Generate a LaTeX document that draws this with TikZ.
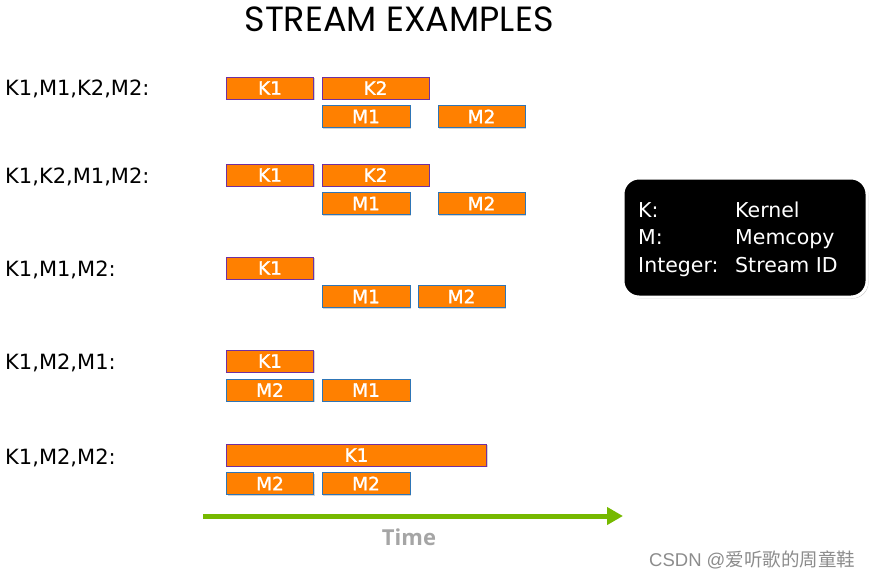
\documentclass[tikz,border=0pt]{standalone}
\usepackage{fontspec}
\setmainfont{DejaVu Sans}
\newfontfamily\cjkfont{Noto Sans CJK SC}
\newfontfamily\titlefont{Poppins}
\newfontfamily\wmfont{Liberation Sans}
\newfontfamily\timefont{Open Sans}
\newfontfamily\boxfont[FakeBold=1.2]{DejaVu Sans}
\usetikzlibrary{shadows,arrows.meta}
\definecolor{boxorange}{RGB}{255,128,0}
\definecolor{kborder}{RGB}{112,48,160}
\definecolor{mborder}{RGB}{46,117,182}
\definecolor{nvgreen}{RGB}{118,185,0}
\definecolor{timegray}{RGB}{165,165,165}
\tikzset{
  opbox/.style={fill=boxorange, line width=0.9pt, minimum height=22pt, inner sep=0pt,
    text=white, font=\boxfont\fontsize{18.5}{18.5}\selectfont,
    drop shadow={shadow xshift=1.2pt, shadow yshift=-1.2pt, opacity=0.35}},
  kbox/.style={opbox, draw=kborder},
  mbox/.style={opbox, draw=mborder},
  rowlabel/.style={anchor=base west, inner sep=0pt, font=\fontsize{21}{21}\selectfont},
  legtext/.style={anchor=base west, inner sep=0pt, text=white, font=\fontsize{20.5}{29}\selectfont},
}
\begin{document}
\begin{tikzpicture}[x=1pt,y=-1pt]
\useasboundingbox (0,0) rectangle (875,579);
\node[font=\titlefont\fontsize{35}{35}\selectfont, inner sep=0pt] (title) at (399,19) {STREAM EXAMPLES};

% row 1
\node[rowlabel] (l1) at (5,95) {K1,M1,K2,M2:};
\node[kbox, minimum width=87pt] (r1k1) at (270,88) {K1};
\node[kbox, minimum width=107pt] (r1k2) at (375.5,88) {K2};
\node[mbox, minimum width=88pt] (r1m1) at (366,116.5) {M1};
\node[mbox, minimum width=87pt] (r1m2) at (481.5,116.5) {M2};
% row 2
\node[rowlabel] (l2) at (5,183) {K1,K2,M1,M2:};
\node[kbox, minimum width=87pt] (r2k1) at (270,175) {K1};
\node[kbox, minimum width=107pt] (r2k2) at (375.5,175) {K2};
\node[mbox, minimum width=88pt] (r2m1) at (366,203.5) {M1};
\node[mbox, minimum width=87pt] (r2m2) at (481.5,203.5) {M2};
% row 3
\node[rowlabel] (l3) at (5,276) {K1,M1,M2:};
\node[kbox, minimum width=87pt] (r3k1) at (270,268) {K1};
\node[mbox, minimum width=88pt] (r3m1) at (366,296.5) {M1};
\node[mbox, minimum width=87pt] (r3m2) at (461.5,296.5) {M2};
% row 4
\node[rowlabel] (l4) at (5,369) {K1,M2,M1:};
\node[kbox, minimum width=87pt] (r4k1) at (270,361) {K1};
\node[mbox, minimum width=87pt] (r4m2) at (270,390) {M2};
\node[mbox, minimum width=88pt] (r4m1) at (366,390) {M1};
% row 5
\node[rowlabel] (l5) at (5,464) {K1,M2,M2:};
\node[kbox, minimum width=260pt] (r5k1) at (356.5,455) {K1};
\node[mbox, minimum width=87pt] (r5m2a) at (270,483.5) {M2};
\node[mbox, minimum width=88pt] (r5m2b) at (366,483.5) {M2};

% legend
\node[fill=black, draw=white, line width=3pt, rounded corners=16pt,
      minimum width=244pt, minimum height=119pt, inner sep=0pt,
      drop shadow={shadow xshift=1.5pt, shadow yshift=-1.5pt, opacity=0.45}] (legend) at (745,237.5) {};
\node[legtext] (legK) at (638,217) {K:};
\node[legtext] (legKv) at (735,217) {Kernel};
\node[legtext] (legM) at (638,244.5) {M:};
\node[legtext] (legMv) at (735,244.5) {Memcopy};
\node[legtext] (legI) at (638,272) {Integer:};
\node[legtext] (legIv) at (735,272) {Stream ID};

% time arrow
\coordinate (t0) at (203,516);
\coordinate (t1) at (623,516);
\draw[nvgreen, line width=5pt, -{Triangle[length=16pt,width=17pt]}] (t0) -- (t1);
\node[text=timegray, font=\timefont\bfseries\fontsize{22}{22}\selectfont, inner sep=0pt] (time) at (409,537) {Time};

% watermark
\node[anchor=west, text=gray!90, inner sep=0pt, font=\wmfont\fontsize{18.5}{18.5}\selectfont] (wm) at (649,560) {CSDN @{\cjkfont 爱听歌的周童鞋}};
\end{tikzpicture}
\end{document}
